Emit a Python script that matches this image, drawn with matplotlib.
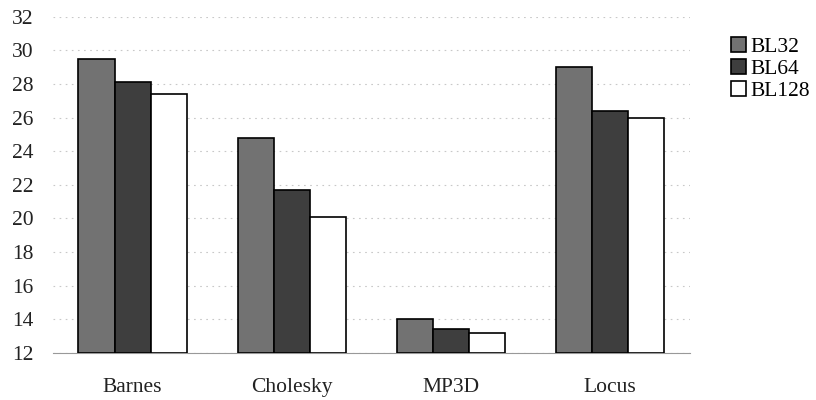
import numpy as np
import matplotlib.pyplot as plt

# ---------------- Data ----------------

apps = ['Barnes', 'Cholesky', 'MP3D', 'Locus']
series = ['BL32', 'BL64', 'BL128']
bl32 = [29.5, 24.8, 14.0, 29.0]
bl64 = [28.1, 21.7, 13.4, 26.4]
bl128 = [27.4, 20.1, 13.2, 26.0]
yticks = list(range(12, 33, 2))

# ---------------- Plot ----------------

plt.rcParams['font.family'] = ['Liberation Serif', 'DejaVu Serif']

fig = plt.figure(figsize=(8.16, 4.0), dpi=100)
ax = fig.add_axes([0.065, 0.118, 0.78, 0.84])

x = np.arange(len(apps))
w = 0.227
colors = ['#727272', '#3e3e3e', 'white']
for i, (name, vals) in enumerate(zip(series, [bl32, bl64, bl128])):
    ax.bar(x + (i - 1) * w, np.array(vals) - 12, width=w, bottom=12,
           color=colors[i], edgecolor='black', linewidth=1.2, label=name,
           zorder=3)

ax.set_ylim(12, 32)
ax.set_xlim(-0.5, 3.5)
ax.set_yticks(yticks)
ax.set_xticks(x)
ax.set_xticklabels(apps)
ax.tick_params(axis='both', length=0, labelsize=15.5, colors='#222222')
ax.tick_params(axis='x', pad=18)
ax.tick_params(axis='y', pad=14)

# faint dotted grid
ax.yaxis.grid(True, linestyle=(0, (1.5, 4)), color='#c8c8c8', linewidth=0.8)
ax.set_axisbelow(True)
for s in ['top', 'right', 'left']:
    ax.spines[s].set_visible(False)
ax.spines['bottom'].set_color('#999999')
ax.spines['bottom'].set_linewidth(0.8)

leg = fig.legend(loc='upper left', bbox_to_anchor=(0.885, 0.93), frameon=False,
                 fontsize=15.5, handlelength=0.7, handleheight=0.7,
                 handletextpad=0.2, labelspacing=0.1, borderaxespad=0)

plt.savefig('out.png', dpi=100)
